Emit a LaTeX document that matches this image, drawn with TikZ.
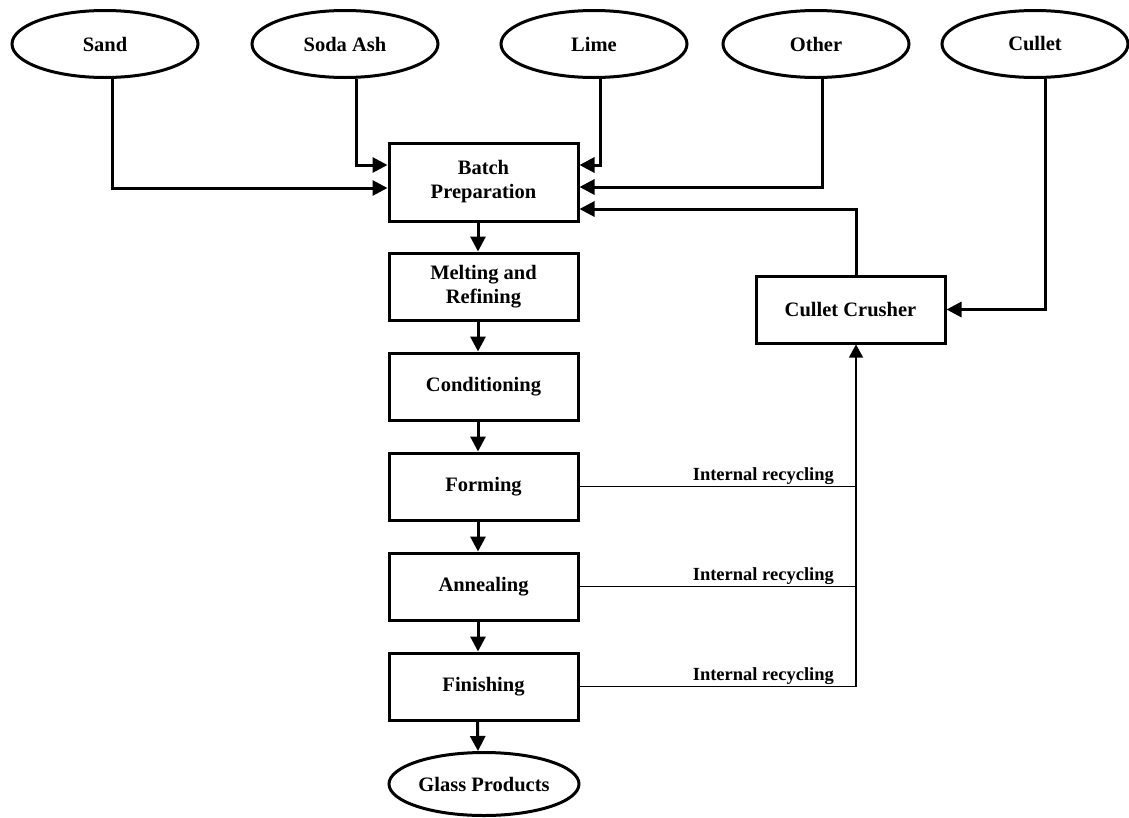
\documentclass[tikz,border=0pt]{standalone}
\usepackage{fontspec}
\setmainfont{Liberation Serif}
\usetikzlibrary{shapes.geometric,arrows.meta,calc}
\begin{document}
\begin{tikzpicture}[x=1pt,y=1pt,
  boxtxt/.style={font=\bfseries\fontsize{20.5}{24}\selectfont, align=center},
  oval/.style={ellipse, draw, line width=3pt, minimum width=186pt, minimum height=67pt, inner sep=0pt, boxtxt},
  procbox/.style={rectangle, draw, line width=3pt, minimum width=189pt, minimum height=67pt, inner sep=0pt, boxtxt},
  flow/.style={line width=3pt, -{Triangle[length=15pt,width=15pt]}},
  rec/.style={line width=1.2pt},
  recarr/.style={line width=1.2pt, -{Triangle[length=13pt,width=14pt]}},
  lbl/.style={font=\bfseries\fontsize{18.5}{22}\selectfont, inner sep=0pt}]
\useasboundingbox (0,0) rectangle (1129,-817);
% inputs
\node[oval] (sand)  at (105,-44)  {Sand};
\node[oval] (soda)  at (345,-44)  {Soda Ash};
\node[oval] (lime)  at (594,-44)  {Lime};
\node[oval] (other) at (816,-44)  {Other};
\node[oval] (cullet) at (1035,-44) {Cullet};
% process column
\node[procbox, minimum height=78pt] (batch) at (483.5,-182) {Batch\\Preparation};
\node[procbox] (melt)  at (483.5,-286.5) {Melting and\\Refining};
\node[procbox] (cond)  at (483.5,-386.5) {Conditioning};
\node[procbox] (form)  at (483.5,-486.5) {Forming};
\node[procbox] (anneal) at (483.5,-586.5) {Annealing};
\node[procbox] (finish) at (483.5,-686.5) {Finishing};
\node[oval, minimum width=190pt, minimum height=63pt] (glass) at (484,-784) {Glass Products};
\node[procbox] (crusher) at (850.5,-309.5) {Cullet Crusher};
% inputs to batch
\draw[flow] ([xshift=7pt]sand.south) |- ([yshift=-6pt]batch.west);
\draw[flow] ([xshift=11pt]soda.south) |- ([yshift=17pt]batch.west);
\draw[flow] ([xshift=6pt]lime.south) |- ([yshift=17pt]batch.east);
\draw[flow] ([xshift=6pt]other.south) |- ([yshift=-5pt]batch.east);
\draw[flow] ([xshift=10pt]cullet.south) |- (crusher.east);
\draw[flow] ([xshift=5.5pt]crusher.north) |- ([yshift=-27pt]batch.east);
% main flow
\draw[flow] ([xshift=-5.5pt]batch.south) -- ([xshift=-5.5pt]melt.north);
\draw[flow] ([xshift=-5.5pt]melt.south) -- ([xshift=-5.5pt]cond.north);
\draw[flow] ([xshift=-5.5pt]cond.south) -- ([xshift=-5.5pt]form.north);
\draw[flow] ([xshift=-5.5pt]form.south) -- ([xshift=-5.5pt]anneal.north);
\draw[flow] ([xshift=-5.5pt]anneal.south) -- ([xshift=-5.5pt]finish.north);
\draw[flow] ([xshift=-6pt]finish.south) -- ([xshift=-6pt]glass.north);
% internal recycling
\coordinate (rj1) at (856,-486.5);
\coordinate (rj2) at (856,-586.5);
\coordinate (rj3) at (856,-686.5);
\draw[rec] (form.east) -- (rj1);
\draw[rec] (anneal.east) -- (rj2);
\draw[recarr] (finish.east) -- (rj3) -- ([xshift=5.5pt]crusher.south);
\node[lbl, anchor=base east] (l1) at (834,-480) {Internal recycling};
\node[lbl, anchor=base east] (l2) at (834,-580) {Internal recycling};
\node[lbl, anchor=base east] (l3) at (834,-680) {Internal recycling};
\end{tikzpicture}
\end{document}
